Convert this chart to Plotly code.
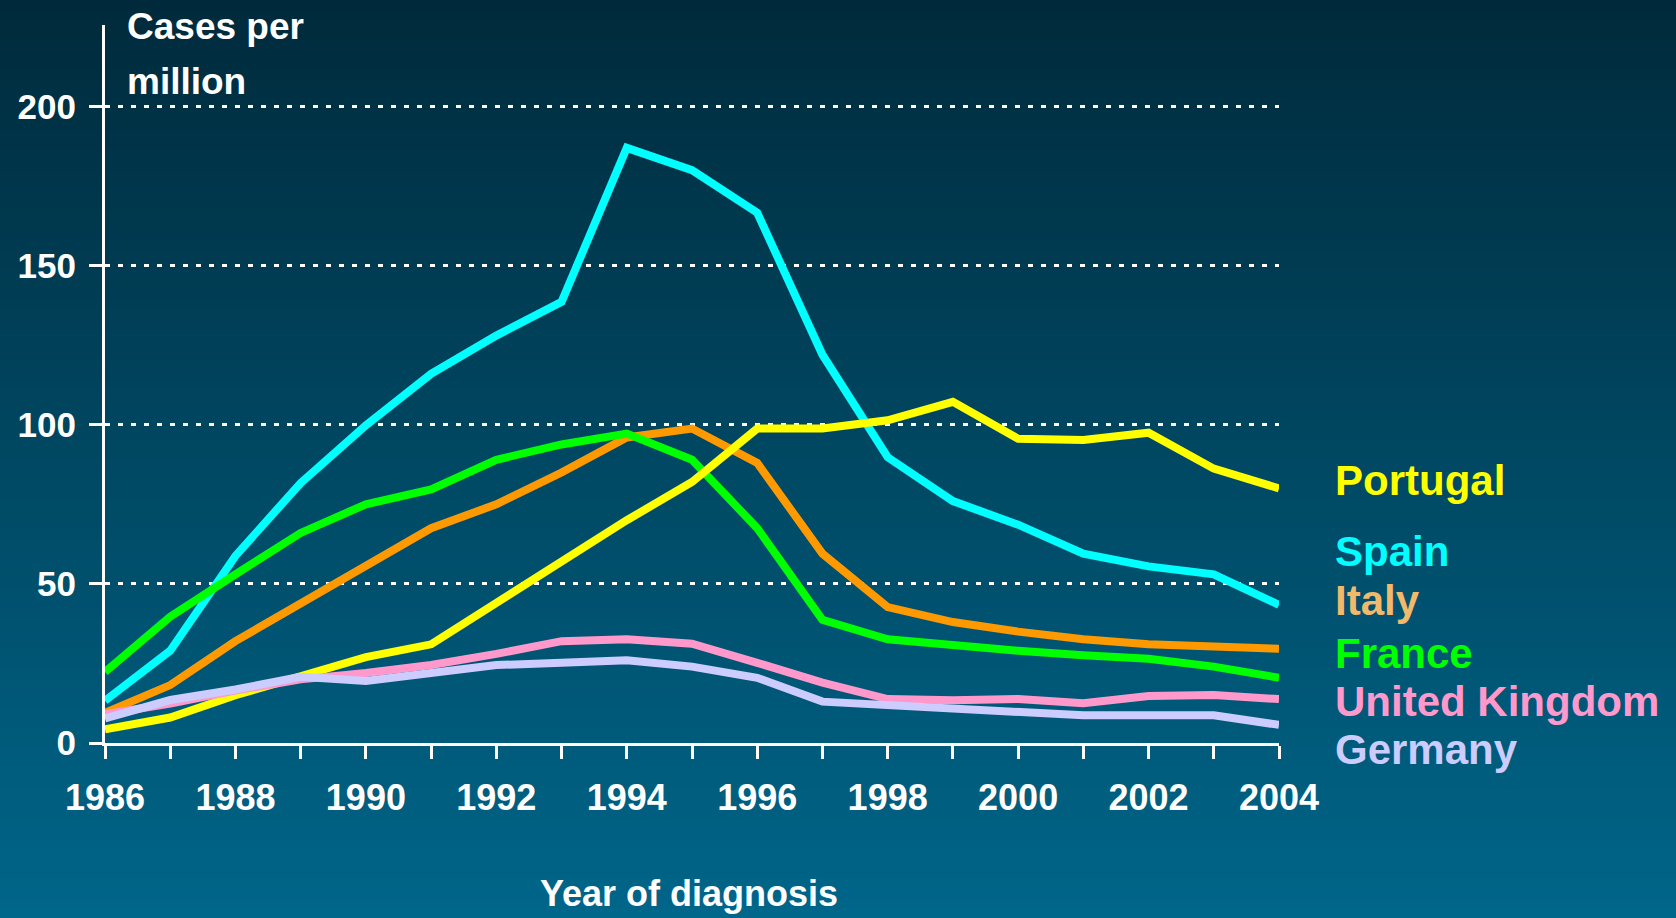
import plotly.graph_objects as go

years = list(range(1986, 2005))

spain = [13.3, 29, 58.8, 81.7, 99.8, 116, 128, 138.6, 187, 180, 166.6, 122, 89.8, 76, 68.6, 59.5, 55.5, 53, 43.4]
portugal = [4.3, 8, 15, 21, 27, 31, 44, 56.5, 70, 82, 98.8, 98.8, 101.4, 107.2, 95.6, 95.2, 97.5, 86.2, 80]
italy = [9.5, 18.2, 32, 44, 56, 67.5, 75, 85, 96, 98.8, 88, 59.5, 42.7, 38, 35, 32.6, 31, 30, 29.6]
france = [22.3, 39.7, 53, 66, 75, 79.7, 89, 93.8, 97.2, 89, 67.5, 38.7, 32.6, 30.6, 29, 27.6, 26.5, 24, 20.5]
uk = [9, 12.4, 16.5, 20, 22, 24.5, 28, 32, 32.6, 31.2, 25.2, 19, 13.8, 13.4, 13.8, 12.5, 14.8, 15.1, 13.8]
germany = [7.7, 13.5, 16.8, 20.8, 19.5, 21.8, 24.5, 25.2, 26, 24, 20.5, 13, 11.8, 10.8, 9.4, 8.7, 8.7, 8.7, 5.7]

y_ticks = [0, 50, 100, 150, 200]
x_ticks = list(range(1986, 2005, 2))

# drawing order, bottom to top
series = [
    ("Spain", spain, "#00ffff"),
    ("Italy", italy, "#ff9900"),
    ("France", france, "#00ff00"),
    ("Portugal", portugal, "#ffff00"),
    ("United Kingdom", uk, "#ff99cc"),
    ("Germany", germany, "#ccccff"),
]

# label text, colour, pixel centre of capitals
labels = [
    ("Portugal", "#ffff00", 481),
    ("Spain", "#00ffff", 551),
    ("Italy", "#f2b96a", 600),
    ("France", "#00ff00", 653),
    ("United Kingdom", "#ff99cc", 701),
    ("Germany", "#ccccff", 749),
]

W, H = 1676, 918
L, R, T, B = 105, 1279, 25, 743
FONT = "Liberation Sans, Arial, sans-serif"


def px(p):
    return (p - L) / (R - L)


def py(p):
    return (B - p) / (B - T)


fig = go.Figure()
for name, vals, col in series:
    fig.add_trace(go.Scatter(x=years, y=vals, name=name, mode="lines",
                             line=dict(color=col, width=8), showlegend=False))

# vertical background gradient
top = (0x00, 0x2a, 0x3b)
bot = (0x00, 0x66, 0x8a)
shapes = []
n = 92
for i in range(n):
    f = (i + 0.5) / n
    c = tuple(round(top[k] + (bot[k] - top[k]) * f) for k in range(3))
    shapes.append(dict(type="rect", xref="paper", yref="paper", layer="below",
                       x0=px(0), x1=px(W), y0=py(H * i / n), y1=py(H * (i + 1) / n + 1),
                       fillcolor="rgb(%d,%d,%d)" % c, line_width=0))

ann = []
for txt, col, yc in labels:
    ann.append(dict(text=txt, x=px(1333), y=py(yc), xref="paper", yref="paper",
                    xanchor="left", yanchor="middle", showarrow=False,
                    font=dict(family=FONT, size=42, color=col, weight="bold")))
for txt, yc in [("Cases per", 27), ("million", 81)]:
    ann.append(dict(text=txt, x=px(125), y=py(yc), xref="paper", yref="paper",
                    xanchor="left", yanchor="middle", showarrow=False,
                    font=dict(family=FONT, size=37, color="white", weight="bold")))
ann.append(dict(text="Year of diagnosis", x=px(689), y=py(893), xref="paper", yref="paper",
                xanchor="center", yanchor="middle", showarrow=False,
                font=dict(family=FONT, size=36, color="white", weight="bold")))

fig.update_layout(
    width=W, height=H,
    margin=dict(l=L, r=W - R, t=T, b=H - B),
    paper_bgcolor="rgb(0,102,138)",
    plot_bgcolor="rgba(0,0,0,0)",
    shapes=shapes,
    annotations=ann,
    xaxis=dict(range=[1986, 2004], tickvals=x_ticks, ticktext=[str(v) for v in x_ticks],
               showgrid=False, zeroline=False, showline=True, linecolor="white", linewidth=3,
               ticks="outside", ticklen=13, tickwidth=3, tickcolor="white",
               ticklabelstandoff=8,
               minor=dict(ticks="outside", ticklen=13, tickwidth=3, tickcolor="white", dtick=1),
               tickfont=dict(family=FONT, size=36, color="white", weight="bold")),
    yaxis=dict(range=[0, 225.6], tickvals=y_ticks, showgrid=True, gridcolor="white",
               gridwidth=3, griddash="5px,8px", zeroline=False, showline=True,
               linecolor="white", linewidth=3, ticks="outside", ticklen=13, tickwidth=3,
               tickcolor="white", ticklabelstandoff=6,
               tickfont=dict(family=FONT, size=35, color="white", weight="bold")),
)

fig.write_html("out.html", config={"displayModeBar": False},
               post_script="document.body.style.margin='0';document.body.style.overflow='hidden';")
